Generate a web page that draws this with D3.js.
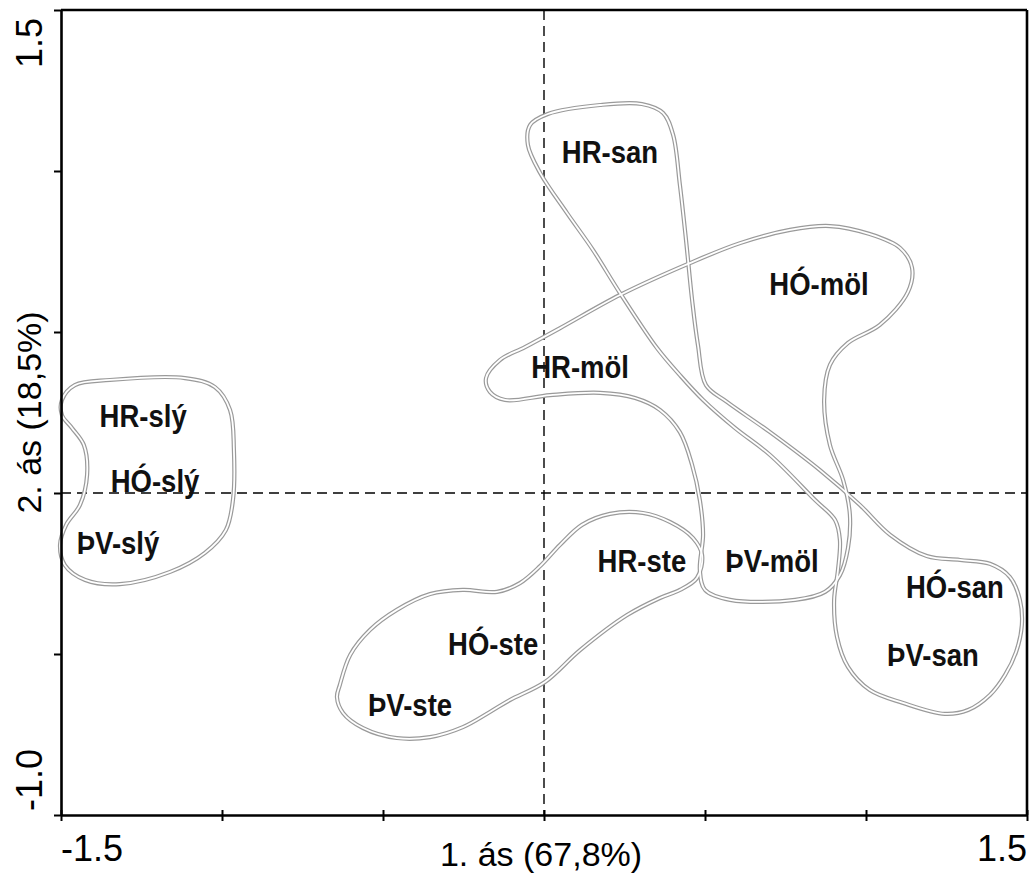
<!DOCTYPE html>
<html>
<head>
<meta charset="utf-8">
<script src="https://cdn.jsdelivr.net/npm/d3@7"></script>
<style>
  html, body { margin: 0; padding: 0; background: #fff; }
  svg { display: block; }
</style>
</head>
<body>
<svg id="chart" width="1034" height="873"></svg>
<script>
// ---- Data -------------------------------------------------------------
const axisTitleX = "1. ás (67,8%)";
const axisTitleY = "2. ás (18,5%)";

const xDomain = [-1.5, 1.5];
const yDomain = [-1.0, 1.5];
const xTicks = [-1.5, -1.0, -0.5, 0, 0.5, 1.0, 1.5];
const yTicks = [-1.0, -0.5, 0, 0.5, 1.0, 1.5];
const xTickLabels = ["-1.5", "1.5"];
const yTickLabels = ["-1.0", "1.5"];

// Sample scores on the first two ordination axes
const siteNames = ["HR-san", "HÓ-möl", "HR-möl", "HR-slý", "HÓ-slý", "ÞV-slý",
                   "HR-ste", "ÞV-möl", "HÓ-san", "ÞV-san", "HÓ-ste", "ÞV-ste"];
const axis1 = [0.205, 0.854, 0.112, -1.245, -1.208, -1.323,
               0.304, 0.708, 1.276, 1.208, -0.158, -0.416];
const axis2 = [1.062, 0.652, 0.394, 0.242, 0.040, -0.155,
               -0.208, -0.208, -0.289, -0.503, -0.466, -0.658];

// Hand-drawn group envelopes (axis units)
const outlineSly = [
  [-1.497, 0.289], [-1.457, 0.335], [-1.348, 0.351], [-1.115, 0.357], [-1.022, 0.329],
  [-0.975, 0.258], [-0.963, 0.134], [-0.966, -0.022], [-0.988, -0.115], [-1.053, -0.186],
  [-1.161, -0.245], [-1.317, -0.283], [-1.425, -0.270], [-1.488, -0.224], [-1.503, -0.161],
  [-1.484, -0.099], [-1.441, -0.037], [-1.419, 0.056], [-1.429, 0.149], [-1.466, 0.202],
  [-1.497, 0.242]
];
const outlineMol = [
  [-0.180, 0.357], [-0.137, 0.413], [-0.059, 0.453], [0.050, 0.512], [0.236, 0.615],
  [0.453, 0.714], [0.609, 0.776], [0.764, 0.817], [0.888, 0.829], [1.012, 0.804],
  [1.106, 0.761], [1.143, 0.699], [1.130, 0.624], [1.043, 0.522], [0.944, 0.466],
  [0.888, 0.398], [0.870, 0.289], [0.888, 0.149], [0.929, 0.040], [0.950, -0.068],
  [0.944, -0.171], [0.919, -0.255], [0.873, -0.307], [0.780, -0.332], [0.578, -0.332],
  [0.500, -0.301], [0.484, -0.239], [0.494, -0.130], [0.484, -0.022], [0.460, 0.087],
  [0.422, 0.189], [0.360, 0.258], [0.283, 0.295], [0.174, 0.311], [0.019, 0.304],
  [-0.121, 0.289], [-0.168, 0.314]
];
const outlineSan = [
  [-0.043, 1.143], [0.012, 1.177], [0.174, 1.205], [0.304, 1.208], [0.370, 1.180],
  [0.401, 1.112], [0.422, 0.957], [0.441, 0.786], [0.460, 0.599], [0.478, 0.460],
  [0.503, 0.335], [0.568, 0.283], [0.702, 0.189], [0.857, 0.071], [0.981, -0.037],
  [1.075, -0.130], [1.189, -0.196], [1.292, -0.208], [1.385, -0.220], [1.447, -0.261],
  [1.478, -0.332], [1.484, -0.410], [1.466, -0.494], [1.432, -0.565], [1.385, -0.627],
  [1.317, -0.674], [1.245, -0.686], [1.115, -0.652], [1.012, -0.612], [0.944, -0.540],
  [0.910, -0.447], [0.901, -0.332], [0.913, -0.239], [0.919, -0.146], [0.904, -0.084],
  [0.842, -0.022], [0.702, 0.118], [0.593, 0.202], [0.494, 0.289], [0.422, 0.366],
  [0.351, 0.450], [0.236, 0.621], [0.152, 0.755], [0.071, 0.870], [-0.012, 0.994],
  [-0.050, 1.081]
];
const outlineSte = [
  [-0.634, -0.596], [-0.602, -0.503], [-0.540, -0.425], [-0.457, -0.363], [-0.354, -0.314],
  [-0.252, -0.301], [-0.146, -0.307], [-0.075, -0.280], [-0.012, -0.227], [0.050, -0.161],
  [0.118, -0.099], [0.205, -0.065], [0.307, -0.062], [0.391, -0.090], [0.463, -0.140],
  [0.491, -0.193], [0.475, -0.264], [0.422, -0.301], [0.360, -0.326], [0.258, -0.379],
  [0.112, -0.488], [0.003, -0.587], [-0.106, -0.643], [-0.168, -0.680], [-0.252, -0.727],
  [-0.354, -0.758], [-0.457, -0.761], [-0.562, -0.730], [-0.624, -0.683], [-0.643, -0.634]
];
const outlines = [outlineSly, outlineMol, outlineSan, outlineSte];

// ---- Layout -----------------------------------------------------------
const svg = d3.select("#chart");
const plot = { left: 61, right: 1027, top: 10, bottom: 815 };

const x = d3.scaleLinear().domain(xDomain).range([plot.left, plot.right]);
const y = d3.scaleLinear().domain(yDomain).range([plot.bottom, plot.top]);

const font = "'Liberation Sans', Arial, Helvetica, sans-serif";

// ---- Zero reference lines ----------------------------------------------
svg.append("line")
  .attr("x1", x(0)).attr("x2", x(0))
  .attr("y1", plot.top).attr("y2", plot.bottom)
  .attr("stroke", "#000").attr("stroke-width", 1.4)
  .attr("stroke-dasharray", "10,6");
svg.append("line")
  .attr("x1", plot.left).attr("x2", plot.right)
  .attr("y1", y(0)).attr("y2", y(0))
  .attr("stroke", "#000").attr("stroke-width", 1.4)
  .attr("stroke-dasharray", "10,6");

// ---- Group envelopes (double grey line) ---------------------------------
const envelope = d3.line()
  .x(d => x(d[0]))
  .y(d => y(d[1]))
  .curve(d3.curveCatmullRomClosed.alpha(0.5));

const envG = svg.append("g");
envG.selectAll("path.outer")
  .data(outlines).join("path")
  .attr("class", "outer")
  .attr("d", envelope)
  .attr("fill", "none")
  .attr("stroke", "#9a9a9a")
  .attr("stroke-width", 4.2);
envG.selectAll("path.inner")
  .data(outlines).join("path")
  .attr("class", "inner")
  .attr("d", envelope)
  .attr("fill", "none")
  .attr("stroke", "#fff")
  .attr("stroke-width", 1.8);

// ---- Sample labels ------------------------------------------------------
const sites = siteNames.map((n, i) => ({ name: n, a1: axis1[i], a2: axis2[i] }));
svg.append("g").selectAll("text")
  .data(sites).join("text")
  .attr("transform", d => `translate(${x(d.a1)},${y(d.a2)}) scale(0.86,1)`)
  .attr("text-anchor", "middle")
  .attr("dy", "0.36em")
  .attr("font-family", font)
  .attr("font-weight", "bold")
  .attr("font-size", 32)
  .attr("fill", "#111")
  .text(d => d.name);

// ---- Axes ---------------------------------------------------------------
const xAxis = svg.append("g")
  .attr("transform", `translate(0,${plot.bottom})`)
  .call(d3.axisBottom(x).tickValues(xTicks).tickSize(6).tickSizeOuter(0).tickFormat(""));
xAxis.select(".domain").attr("stroke", "#000").attr("stroke-width", 2.6);
xAxis.selectAll(".tick line").attr("y1", -5).attr("stroke-width", 2);

const yAxis = svg.append("g")
  .attr("transform", `translate(${plot.left},0)`)
  .call(d3.axisLeft(y).tickValues(yTicks).tickSize(7).tickSizeOuter(0).tickFormat(""));
yAxis.select(".domain").attr("stroke", "#000").attr("stroke-width", 2.6);
yAxis.selectAll(".tick line").attr("stroke-width", 2);

// top and right frame
svg.append("line")
  .attr("x1", plot.left).attr("x2", plot.right)
  .attr("y1", plot.top).attr("y2", plot.top)
  .attr("stroke", "#000").attr("stroke-width", 2.6);
svg.append("line")
  .attr("x1", plot.right).attr("x2", plot.right)
  .attr("y1", plot.top).attr("y2", plot.bottom)
  .attr("stroke", "#000").attr("stroke-width", 2.6);

// tick labels: only the extremes are labelled
const xLab = xTickLabels.map(t => ({ t, v: +t }));
svg.append("g").selectAll("text")
  .data(xLab).join("text")
  .attr("x", d => x(d.v))
  .attr("y", 861)
  .attr("text-anchor", d => d.v === xDomain[0] ? "start" : "end")
  .attr("font-family", font)
  .attr("font-size", 36)
  .attr("fill", "#000")
  .text(d => d.t);

const yLab = yTickLabels.map(t => ({ t, v: +t }));
svg.append("g").selectAll("text")
  .data(yLab).join("text")
  .attr("transform", d => `translate(42,${y(d.v) + (d.v === yDomain[0] ? -4 : 8)}) rotate(-90)`)
  .attr("text-anchor", d => d.v === yDomain[0] ? "start" : "end")
  .attr("font-family", font)
  .attr("font-size", 36)
  .attr("fill", "#000")
  .text(d => d.t);

// axis titles
svg.append("text")
  .attr("x", (plot.left + plot.right) / 2 + (x(0) - (plot.left + plot.right) / 2) - 3)
  .attr("y", 866)
  .attr("text-anchor", "middle")
  .attr("font-family", font)
  .attr("font-size", 34)
  .attr("fill", "#000")
  .text(axisTitleX);

svg.append("text")
  .attr("transform", `translate(41,${(plot.top + plot.bottom) / 2}) rotate(-90)`)
  .attr("text-anchor", "middle")
  .attr("font-family", font)
  .attr("font-size", 34)
  .attr("fill", "#000")
  .text(axisTitleY);
</script>
</body>
</html>
